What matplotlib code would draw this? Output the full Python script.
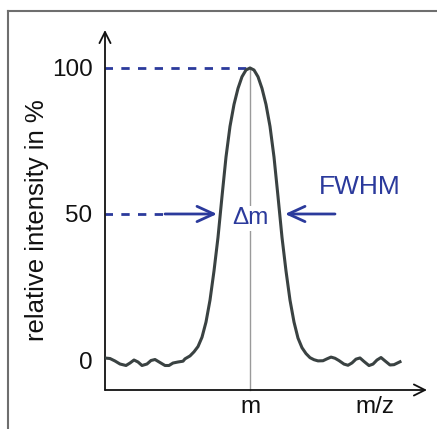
import matplotlib
matplotlib.use('Agg')
import matplotlib.pyplot as plt
from matplotlib.lines import Line2D
import numpy as np

plt.rcParams['font.family'] = ['Liberation Sans', 'DejaVu Sans']

# Spectrum trace (m/z relative to the peak centre m, intensity in %)
mz = [-14.5, -14.0, -13.5, -13.0, -12.4, -12.0, -11.6, -11.2, -10.8, -10.3,
      -9.9, -9.5, -9.0, -8.5, -8.1, -7.7, -7.2, -6.7,
      -6.5, -6.0, -5.6, -5.2, -4.8, -4.4, -4.0, -3.6, -3.2, -2.8, -2.4,
      -2.0, -1.6, -1.2, -0.8, -0.4, 0.0,
      0.4, 0.8, 1.2, 1.6, 2.0, 2.4, 2.8, 3.2, 3.6, 4.0, 4.4, 4.8, 5.2,
      5.6, 6.0, 6.4,
      6.8, 7.3, 7.7, 8.1, 8.5, 8.9, 9.4, 9.8, 10.2, 10.6, 11.0, 11.4,
      11.9, 12.3, 12.7, 13.1, 13.5, 14.0, 14.4, 15.0]
intensity = [0.68, 0.51, -0.34, -1.37, -1.88, -1.03, 0.0, -0.68, -1.88, -1.37,
             -0.17, 0.17, -0.86, -1.88, -1.88, -1.03, -0.68, -0.41,
             0.4, 1.4, 2.8, 4.6, 7.8, 13.0, 20.5, 30.5, 42.0, 56.0, 69.5,
             80.0, 87.5, 93.0, 97.0, 99.3, 100.0,
             99.3, 97.0, 93.0, 87.5, 80.0, 69.5, 56.0, 42.0, 30.5, 20.5, 13.0, 7.5, 4.2,
             2.2, 0.8, 0.1,
             -0.3, -0.25, 0.4, 1.0, 0.6, -0.2, -1.4, -1.8, -1.0, 0.3, 0.7, -0.5,
             -1.9, -1.4, 0.0, 0.85, -0.3, -1.7, -1.6, -0.6]

peak_mz = 0.0
peak_height = 100
half_height = 50
fwhm_left, fwhm_right = -3.3, 3.5

ytick_values = [0, 50, 100]
xtick_values = [0.0, 12.5]
xtick_labels = ['m', 'm/z']

blue = '#2b3a9c'
trace = '#3a4242'

fig = plt.figure(figsize=(4.37, 4.29), dpi=100)
ax = fig.add_axes([105/437, 39/429, 322/437, 360/429])
ax.set_xlim(-14.5, 17.7)
ax.set_ylim(-10.27, 113.0)
for s in ax.spines.values():
    s.set_visible(False)

# axes with open arrow heads
arr = dict(arrowstyle='->, head_length=0.8, head_width=0.4', color='#111111', lw=1.3,
           shrinkA=0, shrinkB=0)
ax.annotate('', xy=(1, 0), xytext=(0, 0), xycoords='axes fraction', arrowprops=arr)
ax.annotate('', xy=(0, 1), xytext=(0, 0), xycoords='axes fraction', arrowprops=arr)

ax.set_yticks(ytick_values)
ax.set_yticklabels([str(v) for v in ytick_values])
ax.set_xticks(xtick_values)
ax.set_xticklabels(xtick_labels)
ax.tick_params(length=0, labelsize=17.5, colors='#111111')
ax.tick_params(axis='y', pad=9)
ax.tick_params(axis='x', pad=4)

ax.set_ylabel('relative intensity in %', fontsize=18.5, color='#111111')
ax.yaxis.set_label_coords(-0.211, 0.472)
ax.yaxis.label.set_verticalalignment('center')

# centre line at m
ax.plot([peak_mz, peak_mz], [-10.27, peak_height], color='#9a9a9a', lw=1.0, zorder=1,
        clip_on=False)

# dashed guides to 100 % and 50 %
dash = (0.3, (3.0, 3.0))
ax.plot([-14.5, peak_mz], [peak_height, peak_height], color=blue, lw=2.0, ls=dash, zorder=2)
ax.plot([-14.5, -8.0], [half_height, half_height], color=blue, lw=2.0, ls=dash, zorder=2)

ax.plot(mz, intensity, color=trace, lw=2.2, zorder=3, solid_joinstyle='round')

harr = dict(arrowstyle='->, head_length=1.2, head_width=0.55', color=blue, lw=2.0,
            shrinkA=0, shrinkB=0)
ax.annotate('', xy=(fwhm_left, half_height), xytext=(-8.5, half_height), arrowprops=harr)
ax.annotate('', xy=(fwhm_right, half_height), xytext=(8.5, half_height), arrowprops=harr)

ax.text(peak_mz, 48.5, '\u0394m', color=blue, fontsize=17.5, ha='center', va='center',
        zorder=4, bbox=dict(boxstyle='square,pad=0.05', fc='white', ec='none'))
ax.text(11.0, 59.2, 'FWHM', color=blue, fontsize=19, ha='center', va='center')

# frame around the figure (top and left edges)
fig.add_artist(Line2D([7.7/437, 7.7/437], [0, 1 - 10.7/429], color='#6e6e6e', lw=1.5,
                      transform=fig.transFigure))
fig.add_artist(Line2D([7.7/437, 1], [1 - 10.7/429, 1 - 10.7/429], color='#6e6e6e', lw=1.5,
                      transform=fig.transFigure))

fig.savefig('out.png', dpi=100)
